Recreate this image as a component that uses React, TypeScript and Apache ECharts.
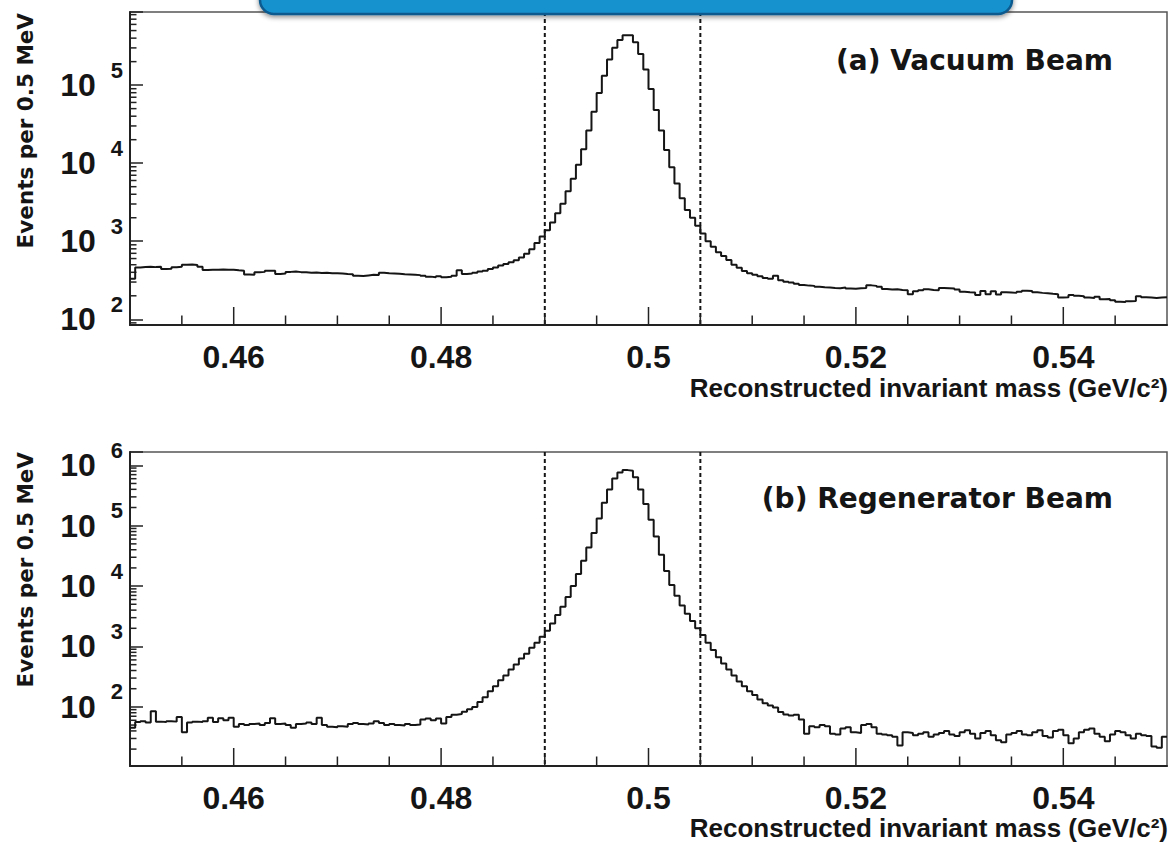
import React, { useEffect, useRef } from 'react';
import * as echarts from 'echarts';

// ---- data ----
const X_MIN = 0.45;
const X_MAX = 0.55;
const BIN_WIDTH = 0.0005; // 0.5 MeV bins
const CUT_LOW = 0.49;
const CUT_HIGH = 0.505;
const CUTS = [CUT_LOW, CUT_HIGH];
const X_LABELS = [0.46, 0.48, 0.5, 0.52, 0.54];

const Y_RANGE_A = [84.5, 865000];
const Y_RANGE_B = [10.5, 1660000];

const PANEL_A_LABEL = '(a) Vacuum Beam';
const PANEL_B_LABEL = '(b) Regenerator Beam';
const Y_TITLE = 'Events per 0.5 MeV';
const X_TITLE = 'Reconstructed invariant mass (GeV/c\u00B2)';

const VACUUM_COUNTS = [
  330, 460, 468, 472, 466, 470, 440, 445, 465, 470,
  498, 502, 495, 470, 428, 430, 432, 435, 430, 432,
  425, 420, 375, 372, 400, 405, 420, 418, 380, 385,
  405, 410, 402, 400, 395, 398, 392, 395, 390, 388,
  385, 380, 378, 360, 358, 365, 372, 370, 395, 388,
  385, 382, 378, 375, 372, 368, 360, 352, 345, 355,
  345, 350, 360, 425, 380, 385, 395, 410, 420, 440,
  460, 490, 510, 540, 570, 620, 690, 790, 950, 1150,
  1380, 1740, 2290, 3020, 4370, 6310, 9550, 15100, 26300, 45700,
  79400, 131800, 213800, 302000, 380000, 436500, 436500, 354800, 251200, 158500,
  89100, 47900, 26300, 14800, 8900, 5500, 3550, 2510, 1995, 1585,
  1259, 1000, 851, 724, 646, 575, 501, 457, 417, 389,
  372, 355, 339, 331, 360, 316, 302, 295, 285, 275,
  270, 268, 262, 258, 255, 252, 250, 255, 248, 246,
  250, 252, 272, 268, 262, 245, 240, 242, 238, 236,
  210, 228, 235, 242, 238, 236, 252, 250, 248, 240,
  225, 222, 220, 205, 230, 210, 228, 208, 222, 220,
  218, 225, 232, 230, 222, 218, 215, 212, 210, 190,
  192, 205, 200, 198, 190, 188, 195, 180, 182, 176,
  168, 166, 170, 172, 198, 192, 190, 188, 190, 192,
];

const REGEN_COUNTS = [
  45, 56, 58, 55, 85, 57, 56, 58, 57, 68,
  38, 55, 57, 56, 58, 66, 56, 65, 60, 66,
  47, 52, 50, 52, 53, 50, 54, 65, 52, 53,
  50, 45, 52, 53, 55, 52, 66, 50, 47, 46,
  48, 47, 52, 54, 52, 51, 53, 58, 54, 50,
  52, 50, 49, 52, 50, 51, 62, 64, 60, 64,
  53, 68, 74, 76, 83, 91, 100, 120, 145, 182,
  219, 275, 331, 417, 501, 631, 759, 955, 1148, 1445,
  1820, 2400, 3310, 4570, 6610, 10000, 15850, 26300, 43650, 75860,
  131800, 239900, 398100, 602600, 758600, 831800, 812800, 631000, 398100, 229100,
  125900, 66070, 33110, 17780, 10470, 6920, 4790, 3470, 2630, 1995,
  1550, 1148, 871, 661, 525, 417, 331, 263, 219, 182,
  158, 132, 115, 105, 98, 82, 75, 72, 74, 62,
  36, 48, 46, 50, 48, 36, 35, 44, 46, 38,
  37, 50, 52, 46, 36, 35, 34, 32, 23, 38,
  37, 34, 36, 38, 32, 35, 37, 40, 35, 33,
  38, 41, 36, 30, 37, 40, 34, 28, 26, 35,
  37, 40, 35, 34, 38, 41, 33, 31, 40, 42,
  34, 25, 30, 38, 42, 44, 36, 32, 27, 35,
  40, 38, 34, 30, 36, 34, 33, 22, 21, 32,
];

// ---- helpers ----
function histData(counts: number[]) {
  const pts = counts.map((c, i) => [X_MIN + i * BIN_WIDTH, c]);
  pts.push([X_MIN + counts.length * BIN_WIDTH, counts[counts.length - 1]]);
  return pts;
}

function yMinorTicks(range: number[]) {
  const out: number[][] = [];
  const e0 = Math.floor(Math.log10(range[0]));
  const e1 = Math.ceil(Math.log10(range[1]));
  for (let e = e0; e <= e1; e++) {
    for (let k = 2; k <= 9; k++) {
      const v = k * Math.pow(10, e);
      if (v > range[0] && v < range[1]) out.push([X_MIN, v]);
    }
  }
  return out;
}

function xTicks(range: number[]) {
  const out: number[][] = [];
  for (let j = 1; j < 20; j++) out.push([X_MIN + 0.005 * j, range[0]]);
  return out;
}

const INK = '#151515';
const LABEL_FONT = '"Liberation Sans", Arial, Helvetica, sans-serif';
const TITLE_FONT = '"DejaVu Sans", "Liberation Sans", sans-serif';

function yLabelFormatter(v: number) {
  const e = Math.log10(v);
  const r = Math.round(e);
  if (Math.abs(e - r) < 1e-6) return `{b|10}{s|${r}}`;
  return '';
}

function xLabelFormatter(v: number) {
  const k = Math.round(v * 100);
  return X_LABELS.some((l) => Math.round(l * 100) === k) ? String(k / 100) : '';
}

function makeAxes(gridIndex: number, yRange: number[]) {
  const xAxis = {
    type: 'value',
    gridIndex,
    min: X_MIN,
    max: X_MAX,
    interval: 0.01,
    axisLine: { show: true, onZero: false, lineStyle: { color: '#222', width: 2 } },
    axisTick: { show: false },
    splitLine: { show: false },
    axisLabel: {
      margin: 19,
      fontSize: 32,
      lineHeight: 26,
      fontWeight: 'bold',
      fontFamily: LABEL_FONT,
      color: INK,
      formatter: xLabelFormatter,
    },
  };
  const yAxis = {
    type: 'log',
    logBase: 10,
    gridIndex,
    min: yRange[0],
    max: yRange[1],
    axisLine: { show: true, onZero: false, lineStyle: { color: '#222', width: 2 } },
    axisTick: { show: true, inside: true, length: 13, lineStyle: { color: '#222', width: 1.5 } },
    minorTick: { show: false },
    splitLine: { show: false },
    axisLabel: {
      margin: 7,
      color: INK,
      formatter: yLabelFormatter,
      rich: {
        b: { fontSize: 32, fontWeight: 'bold', fontFamily: LABEL_FONT, lineHeight: 52, color: INK },
        s: {
          fontSize: 22,
          fontWeight: 'bold',
          fontFamily: LABEL_FONT,
          lineHeight: 21,
          verticalAlign: 'top',
          padding: [0, 0, 0, 15],
          color: INK,
        },
      },
    },
  };
  return { xAxis, yAxis };
}

function makeSeries(idx: number, counts: number[], yRange: number[]) {
  return [
    {
      type: 'line',
      xAxisIndex: idx,
      yAxisIndex: idx,
      step: 'end',
      showSymbol: false,
      symbol: 'none',
      silent: true,
      lineStyle: { color: INK, width: 2 },
      data: histData(counts),
      z: 3,
    },
    {
      // dashed selection cuts, placed through the x axis scale
      type: 'custom',
      xAxisIndex: idx,
      yAxisIndex: idx,
      silent: true,
      data: CUTS.map((c) => [c, yRange[0]]),
      renderItem: (params: any, api: any) => {
        const p = api.coord([api.value(0), api.value(1)]);
        const cs = params.coordSys;
        return {
          type: 'line',
          shape: { x1: p[0], y1: cs.y, x2: p[0], y2: cs.y + cs.height },
          style: { stroke: INK, lineWidth: 2, lineDash: [4, 3] },
        };
      },
      z: 2,
    },
    {
      type: 'custom',
      xAxisIndex: idx,
      yAxisIndex: idx,
      silent: true,
      data: yMinorTicks(yRange),
      renderItem: (params: any, api: any) => {
        const p = api.coord([api.value(0), api.value(1)]);
        return {
          type: 'line',
          shape: { x1: p[0], y1: p[1], x2: p[0] + 6.5, y2: p[1] },
          style: { stroke: '#222', lineWidth: 1.5 },
        };
      },
      z: 2,
    },
    {
      type: 'custom',
      xAxisIndex: idx,
      yAxisIndex: idx,
      silent: true,
      data: xTicks(yRange),
      renderItem: (params: any, api: any) => {
        const v = api.value(0);
        const p = api.coord([v, api.value(1)]);
        const cs = params.coordSys;
        const bottom = cs.y + cs.height;
        const major = Math.round(v * 1000) % 20 === 0;
        const len = major ? 18 : 9.5;
        return {
          type: 'line',
          shape: { x1: p[0], y1: bottom, x2: p[0], y2: bottom - len },
          style: { stroke: '#222', lineWidth: 1.5 },
        };
      },
      z: 2,
    },
  ];
}

export default function App() {
  const ref = useRef<HTMLDivElement>(null);

  useEffect(() => {
    if (!ref.current) return;
    const chart = echarts.init(ref.current, null, { renderer: 'svg' });
    const a = makeAxes(0, Y_RANGE_A);
    const b = makeAxes(1, Y_RANGE_B);

    const xTitleStyle = {
      text: X_TITLE,
      fontSize: 26,
      lineHeight: 22,
      fontWeight: 'bold',
      fontFamily: LABEL_FONT,
      fill: INK,
      align: 'right',
      verticalAlign: 'middle',
    };

    const option: any = {
      animation: false,
      backgroundColor: '#ffffff',
      grid: [
        { left: 130, top: 12, width: 1037, height: 313, show: true, borderColor: '#555', borderWidth: 1.5, backgroundColor: 'transparent' },
        { left: 130, top: 452, width: 1037, height: 314, show: true, borderColor: '#555', borderWidth: 1.5, backgroundColor: 'transparent' },
      ],
      xAxis: [a.xAxis, b.xAxis],
      yAxis: [a.yAxis, b.yAxis],
      series: [...makeSeries(0, VACUUM_COUNTS, Y_RANGE_A), ...makeSeries(1, REGEN_COUNTS, Y_RANGE_B)],
      graphic: [
        {
          type: 'rect',
          z: 100,
          shape: { x: 260, y: -40, width: 752, height: 54, r: 14 },
          style: {
            fill: '#1692cf',
            stroke: '#0b5a8e',
            lineWidth: 2.5,
            shadowBlur: 5,
            shadowOffsetY: 2,
            shadowColor: 'rgba(0,0,0,0.45)',
          },
        },
        {
          type: 'text',
          z: 100,
          x: 1113,
          y: 60,
          style: { text: PANEL_A_LABEL, fontSize: 28, fontWeight: 'bold', fontFamily: TITLE_FONT, fill: INK, align: 'right', verticalAlign: 'middle' },
        },
        {
          type: 'text',
          z: 100,
          x: 1113,
          y: 498,
          style: { text: PANEL_B_LABEL, fontSize: 28, fontWeight: 'bold', fontFamily: TITLE_FONT, fill: INK, align: 'right', verticalAlign: 'middle' },
        },
        {
          type: 'text',
          z: 100,
          x: 25,
          y: 13,
          rotation: Math.PI / 2,
          style: { text: Y_TITLE, fontSize: 21.5, fontWeight: 'bold', fontFamily: TITLE_FONT, fill: INK, align: 'right', verticalAlign: 'middle' },
        },
        {
          type: 'text',
          z: 100,
          x: 25,
          y: 452,
          rotation: Math.PI / 2,
          style: { text: Y_TITLE, fontSize: 21.5, fontWeight: 'bold', fontFamily: TITLE_FONT, fill: INK, align: 'right', verticalAlign: 'middle' },
        },
        { type: 'text', z: 100, x: 1168, y: 388, style: xTitleStyle },
        { type: 'text', z: 100, x: 1168, y: 828, style: xTitleStyle },
      ],
    };

    chart.setOption(option);
    return () => chart.dispose();
  }, []);

  return (
    <div
      ref={ref}
      style={{ position: 'fixed', left: 0, top: 0, width: 1170, height: 843, background: '#fff' }}
    />
  );
}
